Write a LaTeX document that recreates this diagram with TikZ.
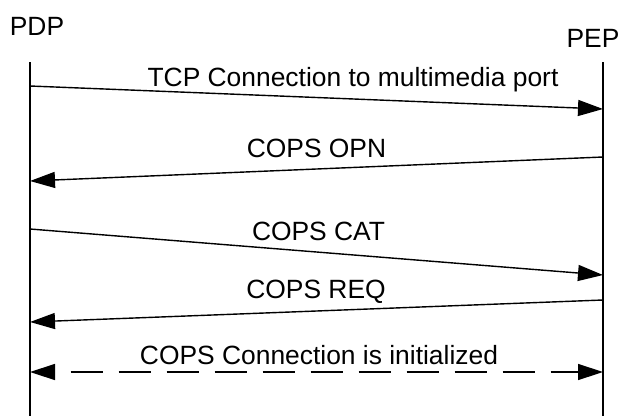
\documentclass[tikz,border=0pt]{standalone}
\usepackage{fontspec}
\setmainfont{Liberation Sans}
\usetikzlibrary{arrows.meta}
\begin{document}
\begin{tikzpicture}[x=1pt,y=-1pt,
  lbl/.style={anchor=base,inner sep=0pt,font=\fontsize{26.4}{30}\selectfont},
  life/.style={line width=1.4pt},
  msg/.style={line width=1.4pt,-{Triangle[length=25pt,width=16pt]}},
  dmsg/.style={line width=1.4pt,{Triangle[length=25pt,width=16pt]}-{Triangle[length=25pt,width=16pt]},dash pattern=on 32pt off 16pt,dash phase=32pt}]
\useasboundingbox (0,0) rectangle (622,416);
% actors
\node[lbl] (pdp) at (37,35) {PDP};
\node[lbl] (pep) at (593,47) {PEP};
% lifelines
\coordinate (pdpTop) at (30,62);
\coordinate (pdpBot) at (30,416);
\coordinate (pepTop) at (603,62);
\coordinate (pepBot) at (603,416);
\draw[life] (pdpTop) -- (pdpBot);
\draw[life] (pepTop) -- (pepBot);
% message end points
\coordinate (a1) at (30,86);   \coordinate (b1) at (603,109);
\coordinate (b2) at (603,157); \coordinate (a2) at (30,181);
\coordinate (a3) at (30,229);  \coordinate (b3) at (603,275);
\coordinate (b4) at (603,300); \coordinate (a4) at (30,322);
\coordinate (a5) at (30,372);  \coordinate (b5) at (603,372);
\draw[msg] (a1) -- (b1);
\draw[msg] (b2) -- (a2);
\draw[msg] (a3) -- (b3);
\draw[msg] (b4) -- (a4);
\draw[dmsg] (a5) -- (b5);
% labels
\node[lbl] (l1) at (353,86) {TCP Connection to multimedia port};
\node[lbl] (l2) at (316.5,157) {COPS OPN};
\node[lbl] (l3) at (318.5,240) {COPS CAT};
\node[lbl] (l4) at (316,298) {COPS REQ};
\node[lbl] (l5) at (319,364) {COPS Connection is initialized};
\end{tikzpicture}
\end{document}
